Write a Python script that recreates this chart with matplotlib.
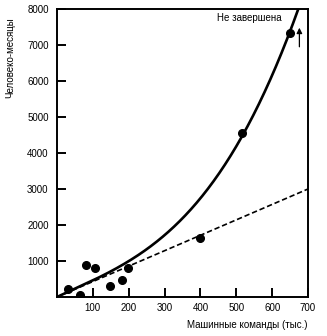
import numpy as np
import matplotlib
matplotlib.use("Agg")
import matplotlib.pyplot as plt

plt.rcParams['font.family'] = ['Liberation Sans', 'DejaVu Sans']

# project size (thousands of instructions) vs effort (man-months)
instr_k = [30, 64, 81, 107, 149, 181, 198, 400, 516, 650]
man_months = [222, 47, 897, 797, 306, 472, 797, 1640, 4546, 7324]

# points along the drawn trend curve
curve_x = [0, 100, 198, 287, 399, 455, 516, 650, 672]
curve_y = [0, 530, 953, 1630, 2602, 3528, 4546, 7324, 8000]

# straight-line estimate
dash_x = [0, 700]
dash_y = [0, 3000]

xticks = [100, 200, 300, 400, 500, 600, 700]
yticks = [1000, 2000, 3000, 4000, 5000, 6000, 7000, 8000]

fig = plt.figure(figsize=(3.27, 3.36), dpi=100)
ax = fig.add_axes([57/327, 1 - 297/336, (308 - 57)/327, (297 - 9)/336])

# least squares fit y = a*x + b*x^2 + c*x^3 through the curve points
cx = np.array(curve_x, float)
cy = np.array(curve_y, float)
A = np.column_stack([cx, cx**2, cx**3])
coef, *_ = np.linalg.lstsq(A, cy, rcond=None)
xs = np.linspace(0, 700, 400)
ys = coef[0]*xs + coef[1]*xs**2 + coef[2]*xs**3
ax.plot(xs, ys, color='black', lw=1.9, solid_capstyle='butt')

ax.plot(dash_x, dash_y, color='black', lw=1.2, dashes=(3.2, 1.7))
ax.plot(instr_k, man_months, 'o', color='black', ms=5.5)

ax.annotate('', xy=(676, 7480), xytext=(676, 6950),
            arrowprops=dict(arrowstyle='-|>', color='black', lw=0.9,
                            mutation_scale=8, shrinkA=0, shrinkB=0))
ax.text(537, 7760, 'Не завершена', ha='center', va='center', fontsize=7)

ax.set_xlim(0, 700)
ax.set_ylim(0, 8000)
ax.set_xticks(xticks)
ax.set_yticks(yticks)
ax.tick_params(direction='in', length=6.5, width=1.4, labelsize=7)
ax.tick_params(axis='y', pad=6)
ax.tick_params(axis='x', pad=4)
for s in ax.spines.values():
    s.set_linewidth(1.4)

fig.text(10/327, 1 - 58/336, 'Человеко-месяцы', rotation=90,
         ha='center', va='center', fontsize=7)
fig.text(247/327, 1 - 325/336, 'Машинные команды (тыс.)',
         ha='center', va='center', fontsize=7)

fig.savefig('out.png', dpi=100)
